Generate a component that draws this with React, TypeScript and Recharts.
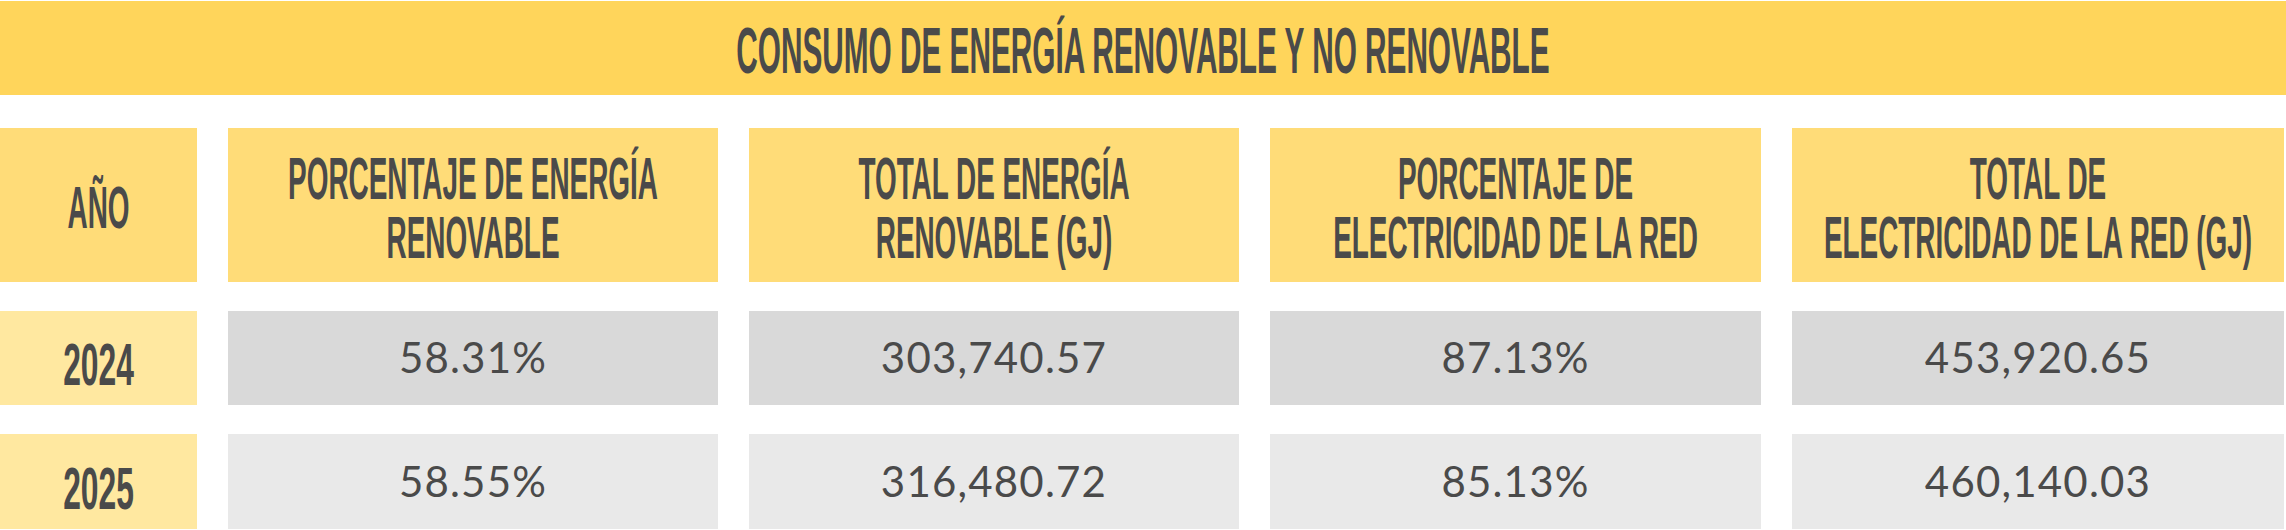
import { ScatterChart, Scatter, XAxis, YAxis } from 'recharts';

const TITLE = 'CONSUMO DE ENERGÍA RENOVABLE Y NO RENOVABLE';
const HEADERS = [
  ['AÑO'],
  ['PORCENTAJE DE ENERGÍA', 'RENOVABLE'],
  ['TOTAL DE ENERGÍA', 'RENOVABLE (GJ)'],
  ['PORCENTAJE DE', 'ELECTRICIDAD DE LA RED'],
  ['TOTAL DE', 'ELECTRICIDAD DE LA RED (GJ)'],
];
const YEARS = ['2024', '2025'];
const RENEWABLE_PCT = [58.31, 58.55];
const RENEWABLE_GJ = [303740.57, 316480.72];
const GRID_PCT = [87.13, 85.13];
const GRID_GJ = [453920.65, 460140.03];

// layout
const W = 2286;
const H = 530;
const COL_WIDTHS = [197, 490, 490, 491, 492];
const COL_GAP = 31;
const ROW_HEIGHTS = [94, 154, 94, 95];
const ROW_GAPS = [33, 29, 29];
const TOP = 1;
const LINE_GAP = 59;

const INK = '#4a4a4a';
const BANNER = '#ffd55b';
const HEAD = '#ffdc78';
const YEAR_BG = '#ffe8a0';
const ROW_BG = ['#d9d9d9', '#e9e9e9'];
const SQUEEZE = 0.465;
const YEAR_SQUEEZE = 0.53;

const colLeft = COL_WIDTHS.map((_, i) => COL_WIDTHS.slice(0, i).reduce((a, b) => a + b + COL_GAP, 0));
const rowTop = ROW_HEIGHTS.map((_, i) => TOP + ROW_HEIGHTS.slice(0, i).reduce((a, b, j) => a + b + ROW_GAPS[j], 0));

const pct = (v: number) => `${v.toFixed(2)}%`;
const gj = (v: number) => v.toLocaleString('en-US', { minimumFractionDigits: 2, maximumFractionDigits: 2 });

type TCell = { x: number; y: number; w: number; h: number; fill: string; kind: string; lines: string[] };

const cellAt = (row: number, col: number, kind: string, fill: string, lines: string[]): TCell => ({
  x: colLeft[col] + COL_WIDTHS[col] / 2,
  y: rowTop[row] + ROW_HEIGHTS[row] / 2,
  w: COL_WIDTHS[col],
  h: ROW_HEIGHTS[row],
  fill,
  kind,
  lines,
});

const cells: TCell[] = [
  { x: W / 2, y: rowTop[0] + ROW_HEIGHTS[0] / 2, w: W, h: ROW_HEIGHTS[0], fill: BANNER, kind: 'title', lines: [TITLE] },
  ...HEADERS.map((lines, c) => cellAt(1, c, 'head', HEAD, lines)),
];
YEARS.forEach((year, r) => {
  const bg = ROW_BG[r];
  cells.push(cellAt(2 + r, 0, 'year', YEAR_BG, [year]));
  cells.push(cellAt(2 + r, 1, 'value', bg, [pct(RENEWABLE_PCT[r])]));
  cells.push(cellAt(2 + r, 2, 'value', bg, [gj(RENEWABLE_GJ[r])]));
  cells.push(cellAt(2 + r, 3, 'value', bg, [pct(GRID_PCT[r])]));
  cells.push(cellAt(2 + r, 4, 'value', bg, [gj(GRID_GJ[r])]));
});

// narrow gothic look: small bold sans stretched upwards
const condensed = (x: number, y: number, lines: string[], size: number, squeeze: number) => (
  <text
    transform={`translate(${x},${y}) scale(1,${1 / squeeze})`}
    textAnchor="middle"
    fontFamily="'Liberation Sans', Arial, sans-serif"
    fontWeight={700}
    fontSize={size * squeeze}
    fill={INK}
  >
    {lines.map((l, i) => (
      <tspan key={i} x={0} dy={i === 0 ? 0 : LINE_GAP * squeeze}>{l}</tspan>
    ))}
  </text>
);

const CellShape = (props: any) => {
  const { cx, cy, payload } = props;
  const { w, h, fill, kind, lines } = payload as TCell;
  let label = null;
  if (kind === 'title') {
    label = condensed(cx, cy + 25, lines, 64, SQUEEZE);
  } else if (kind === 'head') {
    label = condensed(cx, lines.length === 1 ? cy + 23 : cy - 6, lines, 60, SQUEEZE);
  } else if (kind === 'year') {
    label = condensed(cx, cy + 27, lines, 60, YEAR_SQUEEZE);
  } else {
    label = (
      <text x={cx} y={cy + 15} textAnchor="middle" fontFamily="Lato, 'Noto Sans', sans-serif" fontSize={42} letterSpacing={1.2} fill={INK}>
        {lines[0]}
      </text>
    );
  }
  return (
    <g>
      <rect x={cx - w / 2} y={cy - h / 2} width={w} height={h} fill={fill} />
      {label}
    </g>
  );
};

function EnergyTable() {
  return (
    <ScatterChart width={W} height={H} margin={{ top: 0, right: 0, bottom: 0, left: 0 }}>
      <XAxis type="number" dataKey="x" domain={[0, W]} hide />
      <YAxis type="number" dataKey="y" domain={[0, H]} reversed hide />
      <Scatter data={cells} shape={CellShape} isAnimationActive={false} />
    </ScatterChart>
  );
}

export default function App() {
  return (
    <div style={{ width: W, height: H, background: '#fff' }}>
      <style>{'body{margin:0}'}</style>
      <EnergyTable />
    </div>
  );
}
